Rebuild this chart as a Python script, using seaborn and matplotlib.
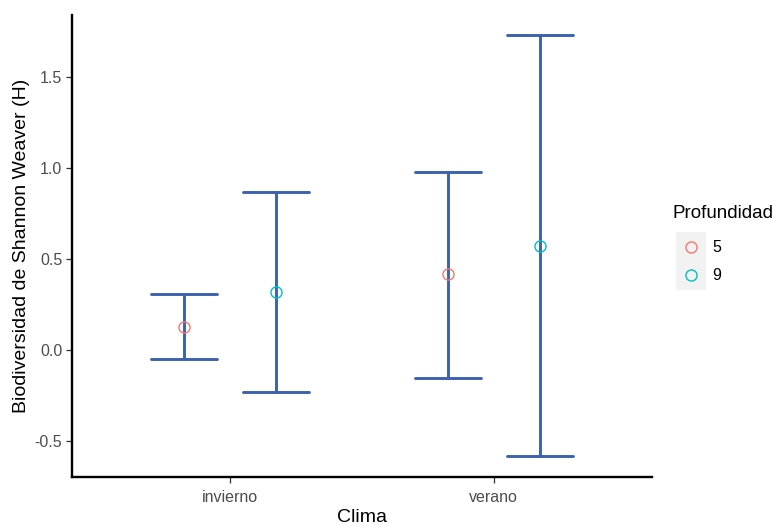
import matplotlib
matplotlib.use("Agg")
import matplotlib.pyplot as plt
import numpy as np
import pandas as pd
import seaborn as sns
from matplotlib.lines import Line2D
from matplotlib.patches import Rectangle

# Shannon-Weaver diversity: mean and interval limits by season and depth
clima = ["invierno", "invierno", "verano", "verano"]
profundidad = ["5", "9", "5", "9"]
media = [0.13, 0.32, 0.42, 0.57]
inferior = [-0.05, -0.23, -0.15, -0.58]
superior = [0.31, 0.87, 0.98, 1.73]

niveles_prof = ["5", "9"]
colores_prof = ["#F8766D", "#00BFC4"]
color_barra = "#3C62AD"

# long table: lower limit, mean and upper limit for each group
filas = []
for c, p, lo, m, hi in zip(clima, profundidad, inferior, media, superior):
    for v in (lo, m, hi):
        filas.append({"Clima": c, "Profundidad": p, "H": v})
largo = pd.DataFrame(filas)
resumen = pd.DataFrame({"Clima": clima, "Profundidad": profundidad, "H": media})

sns.set_theme(style="ticks")
plt.rcParams["font.family"] = ["Liberation Sans", "DejaVu Sans"]

W, H = 779, 526
fig = plt.figure(figsize=(W / 100, H / 100), dpi=100)
ax = fig.add_axes([72 / W, 1 - 477 / H, (652 - 72) / W, (477 - 15) / H])


def fx(x):
    return x / W


def fy(y):
    return 1 - y / H


# error bars: median of (lo, mean, hi) is the mean, full percentile range is lo..hi
sns.pointplot(
    data=largo, x="Clima", y="H", hue="Profundidad", hue_order=niveles_prof,
    estimator="median", errorbar=("pi", 100), dodge=0.35, capsize=0.25,
    markers="", linestyles="none", palette=[color_barra, color_barra],
    err_kws={"linewidth": 2.1}, legend=False, ax=ax,
)

# hollow mean markers
sns.pointplot(
    data=resumen, x="Clima", y="H", hue="Profundidad", hue_order=niveles_prof,
    errorbar=None, dodge=0.35, markers="o", linestyles="none",
    palette=colores_prof, markersize=8, markeredgewidth=1.0,
    legend=False, ax=ax,
)
for ln in ax.lines:
    if ln.get_marker() == "o":
        ln.set_markerfacecolor("none")
        ln.set_zorder(5)

ax.set_xlim(-0.6, 1.6)
ax.set_ylim(-0.695, 1.84)
ax.set_yticks([-0.5, 0.0, 0.5, 1.0, 1.5])
ax.set_yticklabels(["-0.5", "0.0", "0.5", "1.0", "1.5"])

sns.despine(ax=ax)
for s in ("left", "bottom"):
    ax.spines[s].set_linewidth(1.7)
    ax.spines[s].set_color("black")
ax.tick_params(axis="both", length=4, width=0.9, color="#333333",
               labelsize=11.5, labelcolor="#4D4D4D", pad=3)
ax.tick_params(axis="x", pad=5)

ax.set_xlabel("Clima", fontsize=14, color="black")
ax.set_ylabel("Biodiversidad de Shannon Weaver (H)", fontsize=14, color="black")
ax.xaxis.set_label_coords(0.5, -0.069)
ax.yaxis.set_label_coords(-0.073, 0.5)

# legend
fig.text(fx(673), fy(213), "Profundidad", fontsize=13.5, color="black",
         ha="left", va="center")
fig.add_artist(Rectangle((fx(676), fy(290)), fx(30), 58 / H,
                         transform=fig.transFigure, facecolor="#F2F2F2",
                         edgecolor="none"))
for i, (lab, col) in enumerate(zip(niveles_prof, colores_prof)):
    yk = 247 + 28 * i
    fig.add_artist(Line2D([fx(691)], [fy(yk)], transform=fig.transFigure,
                          marker="o", markersize=8, markerfacecolor="none",
                          markeredgecolor=col, markeredgewidth=1.0,
                          linestyle="none"))
    fig.text(fx(712), fy(yk + 1), lab, fontsize=11.5, color="black",
             ha="left", va="center")

fig.savefig("out.png", dpi=100)
